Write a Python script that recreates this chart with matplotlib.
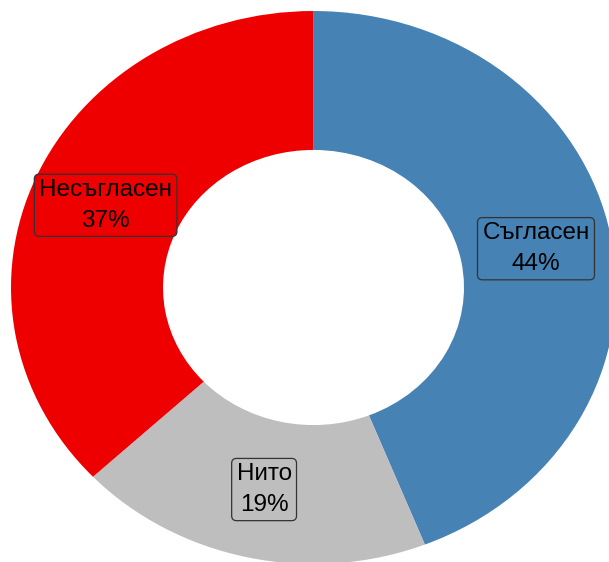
"""
Donut chart: Съгласен / Нито / Несъгласен
"""

import numpy as np
import matplotlib.pyplot as plt

labels = ['Съгласен', 'Нито', 'Несъгласен']
values = [44, 19, 37]
colors = ['#4682B4', '#BEBEBE', '#EE0000']

plt.rcParams['font.family'] = ['Liberation Sans', 'DejaVu Sans']

fig = plt.figure(figsize=(6.09, 5.62), dpi=100)
ax = fig.add_axes([0, 0, 1, 1])

# the reference donut is slightly squashed vertically
sy = 0.914
cx, cy = 313.5, (562 - 287.5) / sy
r_out = 302.5
ring = 152

wedges, _ = ax.pie(values, colors=colors, startangle=90, counterclock=False,
                   radius=r_out, center=(cx, cy),
                   wedgeprops=dict(width=ring, linewidth=0), frame=True)
ax.set_aspect('auto')
ax.set_xlim(0, 609)
ax.set_ylim(0, 562 / sy)
ax.axis('off')

# labels in the middle of the ring
r_lab = r_out - ring / 2
for w, lab, val, col in zip(wedges, labels, values, colors):
    mid = np.deg2rad((w.theta1 + w.theta2) / 2)
    x = cx + r_lab * np.cos(mid)
    y = cy + r_lab * np.sin(mid)
    ax.text(x, y, f'{lab}\n{val}%', ha='center', va='center',
            multialignment='center', fontsize=17.5, linespacing=1.5,
            bbox=dict(boxstyle='round,pad=0.2,rounding_size=0.2',
                      facecolor=col, edgecolor='#333333', linewidth=0.9))

fig.savefig('out.png', dpi=100)
